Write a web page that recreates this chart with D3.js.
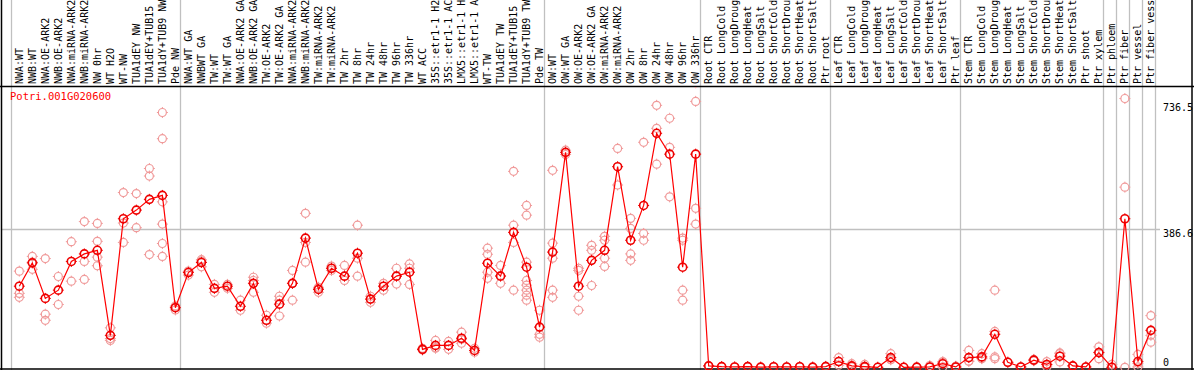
<!DOCTYPE html>
<html>
<head>
<meta charset="utf-8">
<script src="https://cdn.jsdelivr.net/npm/d3@7"></script>
<style>
  body { margin: 0; background: #fff; }
  svg { display: block; }
  text { font-family: "DejaVu Sans Mono", monospace; }
</style>
</head>
<body>
<svg id="chart" width="1194" height="370"></svg>
<script>
// sample labels, read top to bottom off the header
var categories = [
    'NWA:WT', 'NWB:WT', 'NWA:OE-ARK2', 'NWB:OE-ARK2', 'NWA:miRNA-ARK2', 'NWB:miRNA-ARK2',
    'NW 0hr', 'WT H2O', 'WT-NW', 'TUA1dEY NW', 'TUA1dEY+TUB15 NW', 'TUA1dY+TUB9 NW', 'Pde NW',
    'NWA:WT GA', 'NWBWT GA', 'TW:WT', 'TW:WT GA', 'NWA:OE-ARK2 GA', 'NWB:OE-ARK2 GA',
    'TW:OE-ARK2', 'TW:OE-ARK2 GA', 'NWA:miRNA-ARK2', 'NWB:miRNA-ARK2', 'TW:miRNA-ARK2',
    'TW:miRNA-ARK2', 'TW 2hr', 'TW 8hr', 'TW 24hr', 'TW 48hr', 'TW 96hr', 'TW 336hr',
    'WT ACC', '35S::etr1-1 H2O', '35S::etr1-1 ACC', 'LMX5::etr1-1 H2O', 'LMX5::etr1-1 ACC',
    'WT-TW', 'TUA1dEY TW', 'TUA1dEY+TUB15 TW', 'TUA1dY+TUB9 TW', 'Pde TW',
    'OW:WT', 'OW:WT GA', 'OW:OE-ARK2', 'OW:OE-ARK2 GA', 'OW:miRNA-ARK2', 'OW:miRNA-ARK2',
    'OW 2hr', 'OW 8hr', 'OW 24hr', 'OW 48hr', 'OW 96hr', 'OW 336hr',
    'Root CTR', 'Root LongCold', 'Root LongDrought', 'Root LongHeat', 'Root LongSalt',
    'Root ShortCold', 'Root ShortDrought', 'Root ShortHeat', 'Root ShortSalt', 'Ptr root',
    'Leaf CTR', 'Leaf LongCold', 'Leaf LongDrought', 'Leaf LongHeat', 'Leaf LongSalt',
    'Leaf ShortCold', 'Leaf ShortDrought', 'Leaf ShortHeat', 'Leaf ShortSalt', 'Ptr leaf',
    'Stem CTR', 'Stem LongCold', 'Stem LongDrought', 'Stem LongHeat', 'Stem LongSalt',
    'Stem ShortCold', 'Stem ShortDrought', 'Stem ShortHeat', 'Stem ShortSalt', 'Ptr shoot',
    'Ptr xylem', 'Ptr phloem', 'Ptr fiber', 'Ptr vessel', 'Ptr fiber vessel'
];

// index of first sample in each block (grey separators)
var groupStarts = [0, 13, 41, 53, 63, 73, 84, 85, 86, 87];

var means = [
    226, 291, 192, 215, 295, 316, 326, 89, 414, 438, 468, 479, 166,
    264, 292, 220, 226, 170, 234, 131, 176, 234, 360, 217, 276, 254, 318, 190, 226, 254, 265,
    50, 61, 61, 81, 47, 290, 254, 376, 279, 112,
    321, 599, 226, 298, 326, 559, 354, 451, 652, 594, 279, 594,
    4, 2, 1, 2, 0.5, 1.5, 1, 1.5, 0.5, 2,
    16, 4, 2, 0, 27, 0, 0.5, 1, 10, 1,
    27, 29, 92, 14, 1, 20, 8, 31, 4, 1,
    41, 0, 414, 16, 103
];

var replicates = [
    [268, 206, 195], [309, 293, 273], [303, 148, 131], [253, 175], [350, 240],
    [406, 295, 245], [401, 351, 307, 283], [110, 80, 75], [487, 402, 348], [484, 389],
    [554, 533, 314], [710, 637, 461, 399, 345, 309], [160, 168, 171],
    [257, 268, 267], [280, 296, 300], [231, 209], [231, 220], [187, 159], [242, 209, 251],
    [123, 145], [187, 198, 143], [270, 234, 187], [429, 293, 348], [223, 209, 220],
    [276, 270, 282], [284, 254, 242], [396, 304, 254], [198, 181], [234, 215],
    [276, 254, 232], [276, 231, 288],
    [50, 48, 53], [75, 53, 55], [72, 50], [98, 67, 78], [53, 42],
    [332, 265, 248, 315], [284, 256, 234], [546, 396, 348, 215],
    [451, 424, 293, 242, 229, 215, 201, 187], [159, 84, 92],
    [549, 346, 304, 215, 195], [605, 593], [276, 198, 159, 270], [326, 340, 228],
    [365, 354, 304, 281], [610, 508], [415, 387, 298, 316], [627, 373, 354],
    [730, 666, 566], [694, 613, 475], [354, 215, 187, 360], [741, 443, 399, 793],
    [4, 3], [2], [1], [2], [0], [1], [1], [2], [0], [3],
    [27, 6, 16], [10, 1], [8, 0], [0], [38, 22, 21], [0], [0], [5, 0], [13, 1, 16], [3, 0],
    [47, 17, 17], [38, 24, 25], [29, 24, 215, 100], [14], [1], [22, 18], [16, 1, 7],
    [40, 15, 38], [4], [1],
    [57, 24, 42], [8, 0], [749, 502, 0], [36, 1, 11], [144, 89, 70]
];

var yTicks = [736.5, 386.6, 0];

var svg = d3.select('#chart');
var W = 1194, H = 370;
var headerY = 86, plotBottom = 369;

var x = d3.scaleBand()
    .domain(d3.range(categories.length))
    .range([10.7, 1155.3]);
var px = function(i){ return x(i) + 8.6; };

var y = d3.scaleLinear()
    .domain([0, 736.5])
    .range([367.3, 103]);

svg.append('clipPath').attr('id', 'plotclip')
    .append('rect').attr('x', 0).attr('y', headerY + 1).attr('width', W).attr('height', H - headerY);

// grey separators, full height
var seps = groupStarts.map(function(i){ return x(i); }).concat([x.range()[1]]);
svg.append('g').selectAll('line').data(seps).enter().append('line')
    .attr('x1', function(d){ return Math.round(d) + 0.5; })
    .attr('x2', function(d){ return Math.round(d) + 0.5; })
    .attr('y1', 0).attr('y2', H)
    .attr('stroke', '#c0c0c0').attr('stroke-width', 1.3);

// horizontal grid at middle tick
svg.append('line')
    .attr('x1', 1).attr('x2', 1160)
    .attr('y1', Math.round(y(386.6)) + 0.5).attr('y2', Math.round(y(386.6)) + 0.5)
    .attr('stroke', '#c0c0c0').attr('stroke-width', 1.3);

// frame
svg.append('line').attr('x1', 0).attr('x2', W).attr('y1', headerY + 0.5).attr('y2', headerY + 0.5)
    .attr('stroke', '#000').attr('stroke-width', 1.5);
svg.append('line').attr('x1', 0).attr('x2', W).attr('y1', plotBottom).attr('y2', plotBottom)
    .attr('stroke', '#000').attr('stroke-width', 1.5);
svg.append('line').attr('x1', 1.5).attr('x2', 1.5).attr('y1', 0).attr('y2', H)
    .attr('stroke', '#000').attr('stroke-width', 1.5);
svg.append('line').attr('x1', 1192).attr('x2', 1192).attr('y1', 0).attr('y2', H)
    .attr('stroke', '#000').attr('stroke-width', 1.5);

// rotated sample names
svg.append('g').selectAll('text').data(categories).enter().append('text')
    .attr('transform', function(d, i){ return 'translate(' + px(i) + ',' + 84 + ') rotate(-90)'; })
    .attr('dy', '0.35em')
    .attr('font-size', 10)
    .attr('fill', '#000')
    .text(function(d){ return d; });

// gene id
svg.append('text')
    .attr('x', 10).attr('y', 100)
    .attr('font-size', 10.5)
    .attr('fill', '#ff0000')
    .text('Potri.001G020600');

// right value labels
svg.append('g').selectAll('text').data(yTicks).enter().append('text')
    .attr('x', 1163)
    .attr('y', function(d){ return d === 0 ? y(d) - 1 : y(d) + 8; })
    .attr('font-size', 10)
    .attr('fill', '#000')
    .text(function(d){ return d; });

// ring marker with little ticks
var ring = function(g, cx, cy, color, sw){
    g.append('circle').attr('cx', cx).attr('cy', cy).attr('r', 4)
        .attr('fill', 'none').attr('stroke', color).attr('stroke-width', sw);
    g.append('path')
        .attr('d', 'M' + cx + ',' + (cy - 5.5) + 'V' + (cy - 4) +
                   'M' + cx + ',' + (cy + 4) + 'V' + (cy + 5.5) +
                   'M' + (cx - 5.5) + ',' + cy + 'H' + (cx - 4) +
                   'M' + (cx + 4) + ',' + cy + 'H' + (cx + 5.5))
        .attr('stroke', color).attr('stroke-width', 1);
};

var plot = svg.append('g').attr('clip-path', 'url(#plotclip)');

var repG = plot.append('g');
replicates.forEach(function(r, i){
    r.forEach(function(v){
        ring(repG, px(i), y(v), '#f09a9a', 1.2);
    });
});

var line = d3.line()
    .x(function(d, i){ return px(i); })
    .y(function(d){ return y(d); });

plot.append('path')
    .datum(means)
    .attr('d', line)
    .attr('fill', 'none')
    .attr('stroke', '#ff0000')
    .attr('stroke-width', 1.2);

var meanG = plot.append('g');
means.forEach(function(v, i){
    ring(meanG, px(i), y(v), '#ee0000', 1.6);
});
</script>
</body>
</html>
